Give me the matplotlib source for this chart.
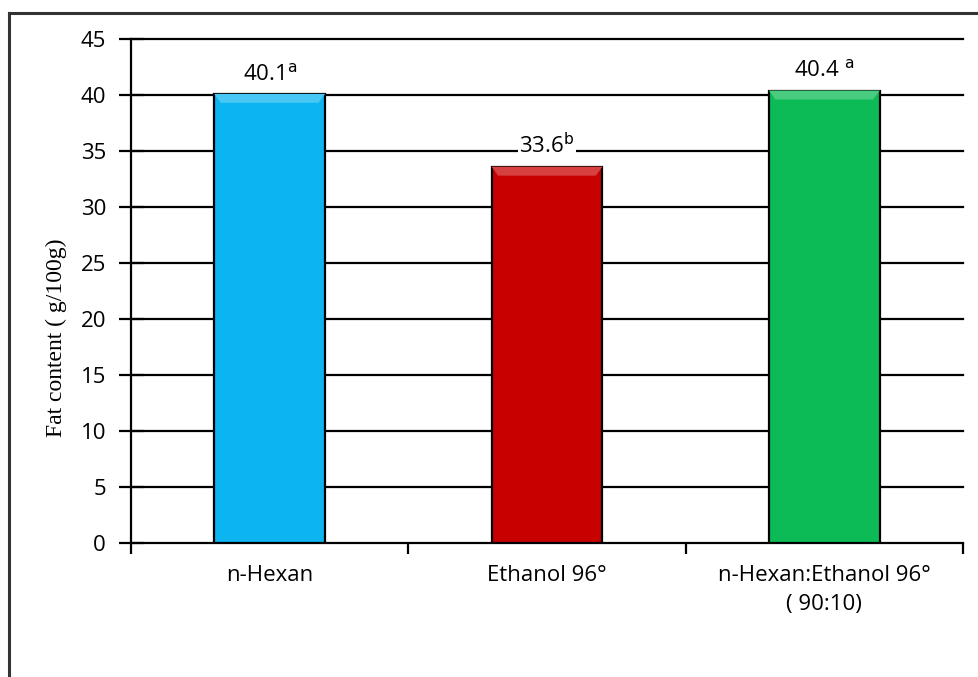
import matplotlib
matplotlib.use("Agg")
import matplotlib.pyplot as plt
from matplotlib.lines import Line2D
from matplotlib.patches import Polygon
import matplotlib.colors as mcolors

# Extraction solvents and measured fat content
solvents = ["n-Hexan", "Ethanol 96°", "n-Hexan:Ethanol 96°\n( 90:10)"]
fat_content = [40.1, 33.6, 40.4]
letters = ["a", "b", "a"]
letter_gap = ["", "", " "]
bar_colors = ["#0CB4F0", "#C80000", "#0CBB55"]
y_ticks = [0, 5, 10, 15, 20, 25, 30, 35, 40, 45]

W, H = 979, 677
fig = plt.figure(figsize=(W / 100, H / 100), dpi=100)
ax = fig.add_axes([131 / W, 1 - 543 / H, (963 - 131) / W, (543 - 39) / H])

sans = ["Open Sans", "DejaVu Sans"]
fs = 16

# Horizontal gridlines behind the bars
for t in y_ticks[1:]:
    ax.axhline(t, color="black", lw=1.6, zorder=0, clip_on=False)

x = list(range(len(solvents)))
bars = ax.bar(x, fat_content, width=0.4, color=bar_colors,
              edgecolor="black", linewidth=1.6, zorder=3)

# Light bevel along the top edge of each bar
for rect, col in zip(bars, bar_colors):
    x0 = rect.get_x()
    w = rect.get_width()
    h = rect.get_height()
    light = mcolors.to_rgb(col)
    light = tuple(c + (1 - c) * 0.25 for c in light)
    dx = w * 0.06
    dy = 0.8
    ax.add_patch(Polygon([(x0, h), (x0 + w, h), (x0 + w - dx, h - dy), (x0 + dx, h - dy)],
                         closed=True, facecolor=light, edgecolor="none", zorder=4))

# Value labels with significance letters (white box masks the gridline)
for xi, v, let, gap in zip(x, fat_content, letters, letter_gap):
    ax.annotate(f"{v:.1f}{gap}" + r"$^{\mathrm{" + let + "}}$",
                xy=(xi, v), xytext=(0, 10), textcoords="offset points",
                ha="center", va="baseline", fontsize=fs, family=sans, zorder=5,
                bbox=dict(boxstyle="square,pad=0.05", facecolor="white", edgecolor="none"))

ax.set_xlim(-0.5, len(solvents) - 0.5)
ax.set_ylim(0, 45)
ax.set_yticks(y_ticks)
ax.set_yticklabels([str(t) for t in y_ticks], family=sans, fontsize=fs)

# Category labels centred under the bars, ticks on category boundaries
ax.set_xticks([i - 0.5 for i in range(len(solvents) + 1)])
ax.set_xticklabels([])
ax.tick_params(axis="x", direction="out", length=8, width=1.6, color="black")
ax.tick_params(axis="y", direction="inout", length=18, width=1.6, color="black", pad=9)
for xi, name in zip(x, solvents):
    ax.text(xi, -2.0, name, ha="center", va="top", fontsize=fs, family=sans,
            linespacing=1.45)

for side in ["top", "right"]:
    ax.spines[side].set_visible(False)
for side in ["left", "bottom"]:
    ax.spines[side].set_linewidth(1.6)
    ax.spines[side].set_color("black")

fig.text(56 / W, 1 - 338 / H, "Fat content ( g/100g)", rotation=90,
         ha="center", va="center", fontsize=17,
         family=["Liberation Serif", "DejaVu Serif"])

# Chart-area border (top and left edges)
fig.add_artist(Line2D([9 / W, 1.0], [1 - 13 / H, 1 - 13 / H], color="#333333", lw=2.2))
fig.add_artist(Line2D([9 / W, 9 / W], [0.0, 1 - 13 / H], color="#333333", lw=2.2))

fig.savefig("out.png", dpi=100, facecolor="white")
